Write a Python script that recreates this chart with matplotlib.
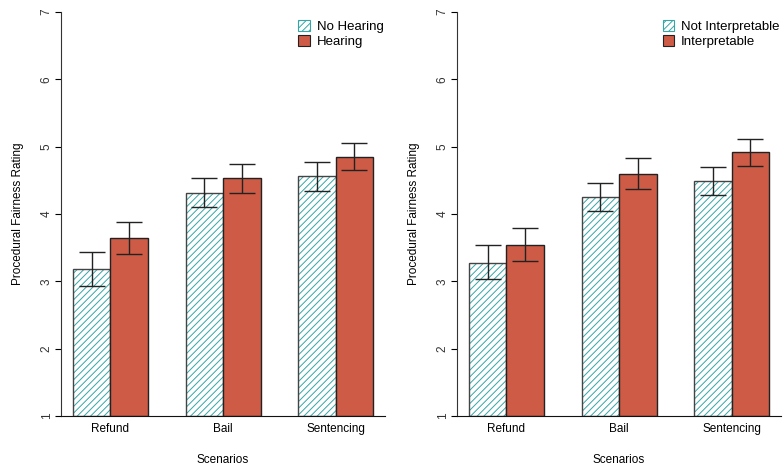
import numpy as np
import matplotlib.pyplot as plt
from matplotlib.patches import Patch

plt.rcParams['font.family'] = ['Liberation Sans', 'DejaVu Sans']
plt.rcParams['hatch.linewidth'] = 0.7

scenarios = ["Refund", "Bail", "Sentencing"]

# hearing condition
hearing_labels = ["No Hearing", "Hearing"]
no_hearing_mean = [3.18, 4.32, 4.57]
no_hearing_lo = [2.93, 4.10, 4.35]
no_hearing_hi = [3.43, 4.54, 4.78]
hearing_mean = [3.64, 4.53, 4.85]
hearing_lo = [3.40, 4.31, 4.65]
hearing_hi = [3.88, 4.75, 5.06]

# interpretability condition
interp_labels = ["Not Interpretable", "Interpretable"]
not_interp_mean = [3.28, 4.25, 4.49]
not_interp_lo = [3.03, 4.04, 4.29]
not_interp_hi = [3.54, 4.46, 4.70]
interp_mean = [3.54, 4.60, 4.92]
interp_lo = [3.30, 4.37, 4.72]
interp_hi = [3.79, 4.83, 5.12]

TEAL = "#35a6a6"
RED = "#cd5b45"


def grouped_bars(ax, labels, m1, lo1, hi1, m2, lo2, hi2):
    # same spacing as an R barplot with beside=TRUE, space=c(0,1)
    left = np.array([1.0, 4.0, 7.0])
    right = left + 1.0
    ax.bar(left, np.array(m1) - 1, bottom=1, width=1, align="edge",
           color="white", edgecolor=TEAL, hatch="/////", linewidth=0)
    ax.bar(left, np.array(m1) - 1, bottom=1, width=1, align="edge",
           color="none", edgecolor="#444444", linewidth=1.0)
    ax.bar(right, np.array(m2) - 1, bottom=1, width=1, align="edge",
           color=RED, edgecolor="#222222", linewidth=1.0)

    for xs, m, lo, hi in [(left + 0.5, m1, lo1, hi1), (right + 0.5, m2, lo2, hi2)]:
        m = np.array(m)
        err = [m - np.array(lo), np.array(hi) - m]
        ax.errorbar(xs, m, yerr=err, fmt="none", ecolor="#222222",
                    elinewidth=1.0, capsize=9.5, capthick=1.0)

    ax.set_xlim(0.68, 9.32)
    ax.set_ylim(1, 7)
    ax.set_yticks(range(1, 8))
    ax.set_yticklabels([str(v) for v in range(1, 8)], rotation=90, va="center")
    ax.set_xticks(left + 1.0)
    ax.set_xticklabels(scenarios)
    ax.tick_params(axis="x", length=0, pad=5, labelsize=8.5)
    ax.tick_params(axis="y", length=4, width=0.8, pad=2, labelsize=8.5,
                   labelcolor="#333333")
    for s in ["top", "right"]:
        ax.spines[s].set_visible(False)
    ax.spines["left"].set_color("#333333")
    ax.spines["bottom"].set_color("#111111")
    ax.set_xlabel("Scenarios", fontsize=8.5, labelpad=14)
    ax.set_ylabel("Procedural Fairness Rating", fontsize=8.5, labelpad=12)

    handles = [Patch(facecolor="white", edgecolor="#333333", hatch="/////", linewidth=0.8),
               Patch(facecolor=RED, edgecolor="#222222", linewidth=0.8)]
    leg = ax.legend(handles, labels, loc="upper right", bbox_to_anchor=(1.02, 1.0),
                    frameon=False, fontsize=9.5, handlelength=0.9, handleheight=0.9,
                    handletextpad=0.5, labelspacing=0.15, borderaxespad=0.2)
    # teal hatching inside the first legend swatch
    leg.legend_handles[0].set_edgecolor(TEAL)


fig = plt.figure(figsize=(7.84, 4.68), dpi=100)
ax1 = fig.add_axes([0.0778, 0.111, 0.4133, 0.863])
ax2 = fig.add_axes([0.5829, 0.111, 0.4133, 0.863])

grouped_bars(ax1, hearing_labels, no_hearing_mean, no_hearing_lo, no_hearing_hi,
             hearing_mean, hearing_lo, hearing_hi)
grouped_bars(ax2, interp_labels, not_interp_mean, not_interp_lo, not_interp_hi,
             interp_mean, interp_lo, interp_hi)

fig.savefig("out.png", dpi=100)
